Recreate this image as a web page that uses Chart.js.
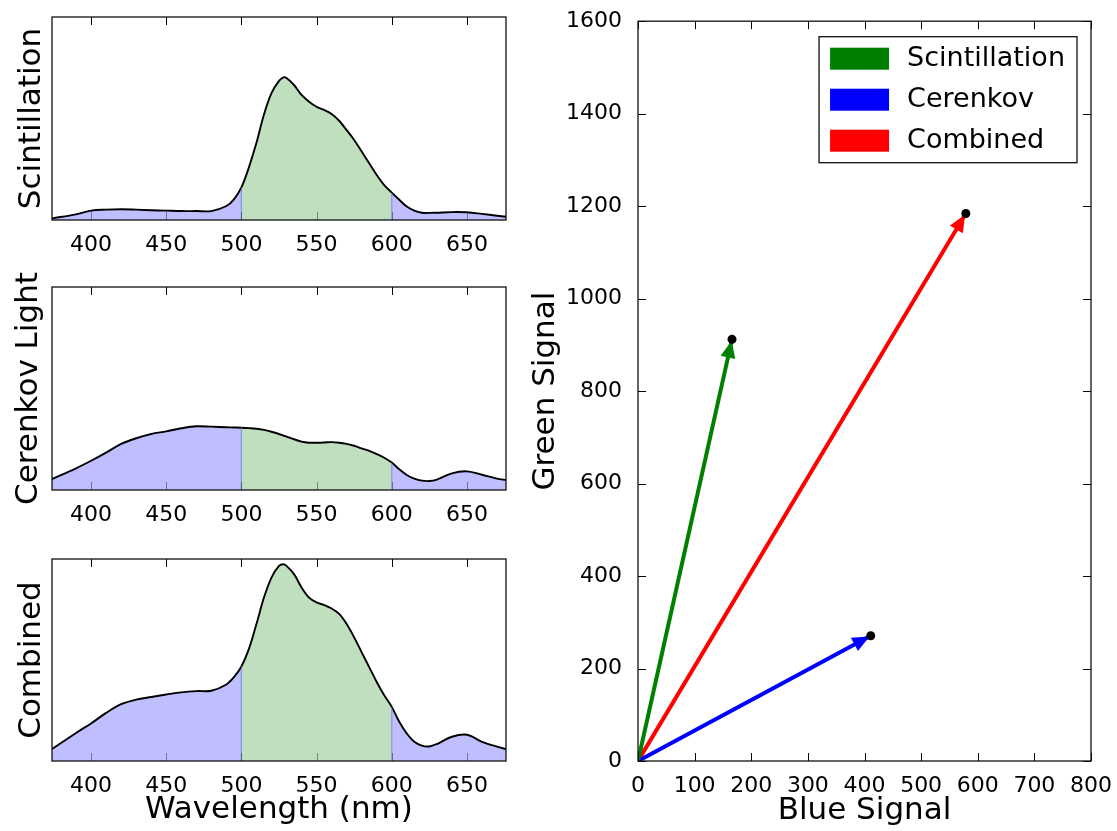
<!DOCTYPE html>
<html><head><meta charset="utf-8">
<script src="https://cdn.jsdelivr.net/npm/chart.js@4.4.1/dist/chart.umd.min.js"></script>
<style>
html,body{margin:0;padding:0;background:#fff;}
body{width:1117px;height:831px;position:relative;overflow:hidden;}
canvas{position:absolute;}
</style></head><body>
<canvas id="c1" width="530" height="270" style="left:0;top:0"></canvas>
<canvas id="c2" width="530" height="270" style="left:0;top:270px"></canvas>
<canvas id="c3" width="530" height="291" style="left:0;top:540px"></canvas>
<canvas id="c4" width="587" height="831" style="left:530px;top:0"></canvas>
<script>
// ---------- data ----------
const wavelength = [374,390,400,410,420,430,440,450,460,470,480,490,495,500,505,510,515,520,525,528,530,535,540,545,550,555,560,565,570,575,580,585,590,595,600,605,610,615,620,625,630,640,650,660,670,676];
const scintillation = [0.8,2.8,4.6,5.1,5.3,5.1,4.8,4.6,4.4,4.4,4.4,6.9,10.2,16.1,26,38,52,62.5,68.5,70.3,69.9,66.5,61.6,58.3,55.8,54.2,52.2,48.9,44.3,39.4,33.7,27.9,22.2,17.2,13.5,10.0,6.6,4.6,3.6,3.5,3.6,3.9,3.8,3.0,2.1,1.6];
const cerenkov = [5.4,10.7,14.4,18.4,22.7,25.5,27.6,28.9,30.4,31.4,31.2,30.9,30.8,30.7,30.5,30.2,29.6,28.7,27.6,26.8,26.3,25.0,23.8,23.3,23.3,23.4,23.6,23.3,22.7,21.8,20.5,19.3,17.7,15.9,13.5,10.2,7.4,5.6,4.6,4.4,5.1,8.2,9.2,7.5,5.6,4.9];
const combined = [5.9,13.9,18.6,23.8,28.1,30.4,31.7,32.9,34.0,34.6,34.8,37.9,41.5,46.8,55.5,67.8,80.9,90.8,96.6,97.4,96.6,92.5,85.9,80.9,78.5,77.2,75.5,72.8,67.8,61.2,53.8,46.5,39.1,32.5,26.8,19.4,13.6,9.5,7.6,7.2,8.4,12.0,13.0,9.5,7.1,5.9];
const greenBand = [500, 600];
const wavelengthTicks = [400,450,500,550,600,650];

const vectorLabels = ['Scintillation','Cerenkov','Combined'];
const blueSignal = [166, 411, 579];
const greenSignal = [912, 271, 1184];
const blueTicks = [0,100,200,300,400,500,600,700,800];
const greenTicks = [0,200,400,600,800,1000,1200,1400,1600];

// ---------- styles ----------
const vectorColors = ['#008000','#0000ff','#ff0000'];
const FILL_BLUE = 'rgb(191,191,255)';
const FILL_GREEN = 'rgb(191,223,191)';
Chart.defaults.font.family = '"DejaVu Sans", sans-serif';
Chart.defaults.color = '#000';

const frameTicks = {
  id: 'frameTicks',
  afterDatasetsDraw(chart, args, opts) {
    const {ctx, chartArea: a, scales} = chart;
    const L = 8;
    ctx.save();
    // seams at band edges (spectrum charts)
    if (opts.band) {
      const meta = chart.getDatasetMeta(0);
      ctx.strokeStyle = 'rgba(110,120,225,0.75)';
      ctx.lineWidth = 1.2;
      ctx.beginPath();
      meta.data.forEach((pt, i) => {
        const w = chart.data.datasets[0].data[i].x;
        if (w === greenBand[0] || w === greenBand[1]) {
          ctx.moveTo(pt.x, a.bottom); ctx.lineTo(pt.x, pt.y + 1);
        }
      });
      ctx.stroke();
    }
    ctx.strokeStyle = '#000';
    ctx.lineWidth = 1;
    ctx.beginPath();
    for (const t of scales.x.ticks) {
      const px = Math.round(scales.x.getPixelForValue(t.value)) + 0.5;
      ctx.moveTo(px, a.top); ctx.lineTo(px, a.top + L);
      if (opts.bottom) { ctx.moveTo(px, a.bottom); ctx.lineTo(px, a.bottom - L); }
    }
    if (opts.yTicks) {
      for (const t of scales.y.ticks) {
        const py = Math.round(scales.y.getPixelForValue(t.value)) + 0.5;
        ctx.moveTo(a.left, py); ctx.lineTo(a.left + L, py);
        ctx.moveTo(a.right, py); ctx.lineTo(a.right - L, py);
      }
    }
    ctx.stroke();
    if (opts.faintBottom) {
      ctx.strokeStyle = 'rgba(0,0,0,0.4)';
      ctx.beginPath();
      for (const t of scales.x.ticks) {
        const px = Math.round(scales.x.getPixelForValue(t.value)) + 0.5;
        ctx.moveTo(px, a.bottom); ctx.lineTo(px, a.bottom - L);
      }
      ctx.stroke();
    }
    ctx.lineWidth = 1.3;
    ctx.strokeStyle = '#111';
    ctx.strokeRect(a.left, a.top, a.right - a.left, a.bottom - a.top);
    ctx.restore();
  }
};

function spectrumChart(id, values, yLabel, opt) {
  return new Chart(document.getElementById(id), {
    type: 'line',
    data: {
      datasets: [{
        data: wavelength.map((w, i) => ({x: w, y: values[i]})),
        borderColor: '#000',
        borderWidth: 1.9,
        backgroundColor: FILL_BLUE,
        fill: 'origin',
        pointRadius: 0,
        tension: 0.35,
        segment: {
          backgroundColor: c => (c.p0.parsed.x >= greenBand[0] && c.p1.parsed.x <= greenBand[1]) ? FILL_GREEN : undefined
        }
      }]
    },
    options: {
      responsive: false, animation: false, devicePixelRatio: 1,
      layout: {padding: {top: opt.top, right: 24, left: 0, bottom: 0}},
      plugins: {legend: {display: false}, tooltip: {enabled: false}, frameTicks: {bottom: false, faintBottom: true, yTicks: false, band: true}},
      scales: {
        x: {
          type: 'linear', min: 374, max: 676,
          grid: {display: false}, border: {display: false},
          afterBuildTicks: s => { s.ticks = wavelengthTicks.map(v => ({value: v})); },
          afterFit: s => { s.height = opt.xh; },
          ticks: {font: {size: 22}, padding: 4.5, maxRotation: 0, autoSkip: false, callback: v => String(v)},
          title: opt.xTitle ? {display: true, text: opt.xTitle, font: {size: 31, lineHeight: 1}, padding: {top: 0, bottom: 5.5}} : {display: false}
        },
        y: {
          min: 0, max: 100,
          grid: {display: false}, border: {display: false},
          ticks: {display: false},
          afterFit: s => { s.width = 52; },
          title: {display: true, text: yLabel, font: {size: 31, lineHeight: 1}, padding: {top: opt.tp, bottom: 0}}
        }
      }
    },
    plugins: [frameTicks]
  });
}

spectrumChart('c1', scintillation, 'Scintillation', {top: 17, xh: 50, tp: 16.5});
spectrumChart('c2', cerenkov, 'Cerenkov Light', {top: 17, xh: 50, tp: 13});
spectrumChart('c3', combined, 'Combined', {top: 19, xh: 70, tp: 16.5, xTitle: 'Wavelength (nm)'});

// ---------- vector chart ----------
const arrowHeads = {
  id: 'arrowHeads',
  afterDatasetDraw(chart, args) {
    const ds = chart.data.datasets[args.index];
    if (!ds.arrow) return;
    const pts = args.meta.data;
    const x0 = pts[0].x, y0 = pts[0].y, x1 = pts[1].x, y1 = pts[1].y;
    const ang = Math.atan2(y1 - y0, x1 - x0);
    const len = 17, hw = 7.5;
    const tx = x1 - 1.5 * Math.cos(ang), ty = y1 - 1.5 * Math.sin(ang);
    const bx = tx - len * Math.cos(ang), by = ty - len * Math.sin(ang);
    const ctx = chart.ctx;
    ctx.save();
    ctx.fillStyle = ds.borderColor;
    ctx.beginPath();
    ctx.moveTo(tx, ty);
    ctx.lineTo(bx - hw * Math.sin(ang), by + hw * Math.cos(ang));
    ctx.lineTo(bx + hw * Math.sin(ang), by - hw * Math.cos(ang));
    ctx.closePath();
    ctx.fill();
    ctx.restore();
  }
};

const boxLegend = {
  id: 'boxLegend',
  afterDraw(chart) {
    const {ctx, chartArea: a} = chart;
    const items = chart.data.datasets.filter(d => d.arrow);
    ctx.save();
    ctx.font = '27px "DejaVu Sans"';
    let tw = 0;
    items.forEach(d => { tw = Math.max(tw, ctx.measureText(d.label).width); });
    const padL = 11, patchW = 59, patchH = 22, gap = 18, padR = 12, rowH = 41;
    const w = padL + patchW + gap + tw + padR;
    const right = a.right - 14, top = a.top + 15.5;
    const left = right - w;
    const h = rowH * items.length + 3;
    ctx.fillStyle = '#fff';
    ctx.fillRect(left, top, w, h);
    ctx.lineWidth = 1.3;
    ctx.strokeStyle = '#111';
    ctx.strokeRect(left, top, w, h);
    items.forEach((d, i) => {
      const cy = top + 22 + i * rowH;
      ctx.fillStyle = d.borderColor;
      ctx.fillRect(left + padL, cy - patchH / 2, patchW, patchH);
      ctx.fillStyle = '#000';
      ctx.textBaseline = 'middle';
      ctx.textAlign = 'left';
      ctx.fillText(d.label, left + padL + patchW + gap, cy);
    });
    ctx.restore();
  }
};

const vecDatasets = [{
  label: 'points',
  data: blueSignal.map((x, i) => ({x, y: greenSignal[i]})),
  pointRadius: 4.5, pointBackgroundColor: '#000', pointBorderWidth: 0, showLine: false
}];
vectorLabels.forEach((lab, i) => {
  vecDatasets.push({
    label: lab, arrow: true,
    data: [{x: 0, y: 0}, {x: blueSignal[i], y: greenSignal[i]}],
    borderColor: vectorColors[i], backgroundColor: vectorColors[i],
    borderWidth: 4, pointRadius: 0, showLine: true, borderCapStyle: 'butt'
  });
});

new Chart(document.getElementById('c4'), {
  type: 'scatter',
  data: {datasets: vecDatasets},
  options: {
    responsive: false, animation: false, devicePixelRatio: 1,
    layout: {padding: {top: 17, right: 26, left: 0, bottom: 0}},
    plugins: {legend: {display: false}, tooltip: {enabled: false}, frameTicks: {bottom: true, yTicks: true}},
    scales: {
      x: {
        type: 'linear', min: 0, max: 800,
        grid: {display: false}, border: {display: false},
        afterBuildTicks: s => { s.ticks = blueTicks.map(v => ({value: v})); },
        afterFit: s => { s.height = 70; },
        ticks: {font: {size: 22}, padding: 4, maxRotation: 0, autoSkip: false, callback: v => String(v)},
        title: {display: true, text: 'Blue Signal', font: {size: 31, lineHeight: 1}, padding: {top: 0, bottom: 5}}
      },
      y: {
        type: 'linear', min: 0, max: 1600,
        grid: {display: false}, border: {display: false},
        afterBuildTicks: s => { s.ticks = greenTicks.map(v => ({value: v})); },
        afterFit: s => { s.width = 108; },
        ticks: {font: {size: 22}, padding: 8, autoSkip: false, callback: v => String(v)},
        title: {display: true, text: 'Green Signal', font: {size: 31, lineHeight: 1}, padding: {top: 0.5, bottom: 0}}
      }
    }
  },
  plugins: [arrowHeads, frameTicks, boxLegend]
});
</script>
</body></html>
